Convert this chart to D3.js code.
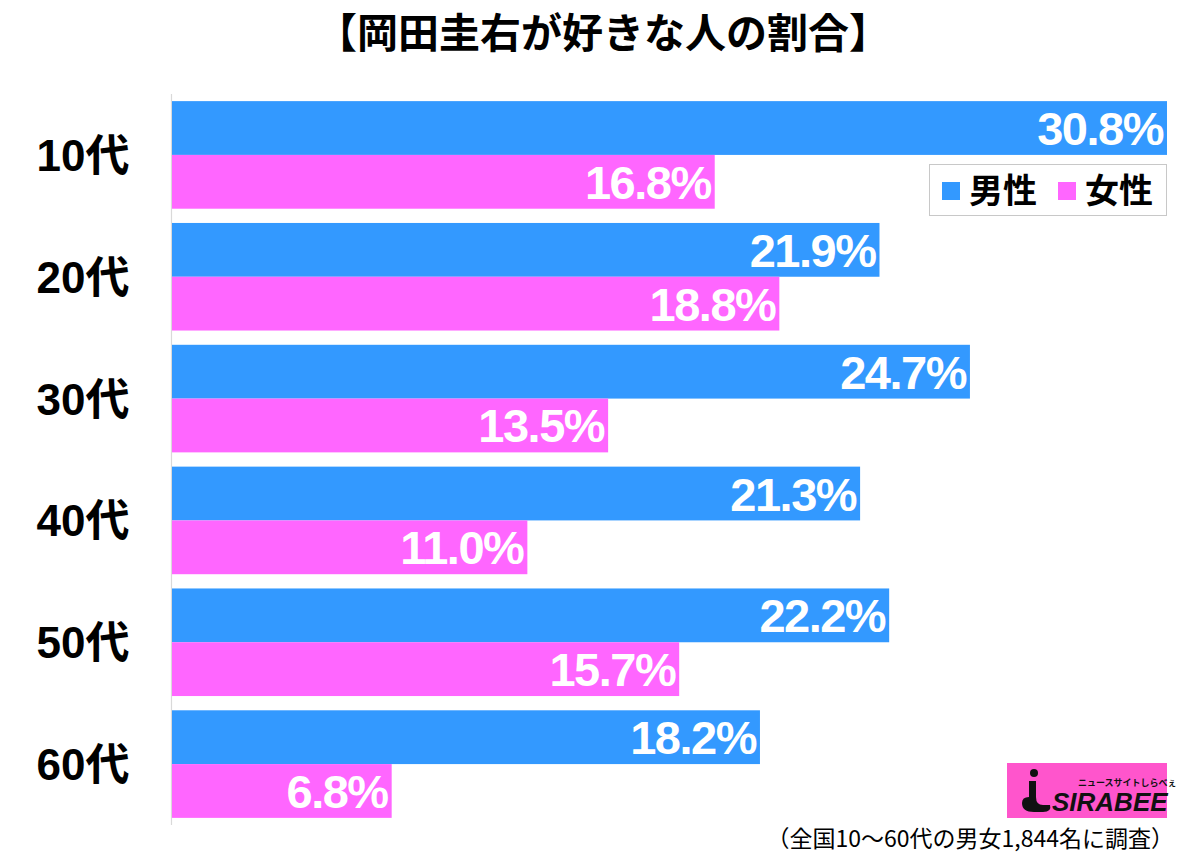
<!DOCTYPE html>
<html>
<head>
<meta charset="utf-8">
<script src="https://cdn.jsdelivr.net/npm/d3@7"></script>
<style>
  body { margin: 0; background: #fff; }
  text { font-family: "Liberation Sans", "Noto Sans CJK JP", sans-serif; }
</style>
</head>
<body>
<div id="chart"></div>
<script>
// data
const ages = ["10代", "20代", "30代", "40代", "50代", "60代"];
const genders = ["男性", "女性"];
const male = [30.8, 21.9, 24.7, 21.3, 22.2, 18.2];
const female = [16.8, 18.8, 13.5, 11.0, 15.7, 6.8];
const title = "【岡田圭右が好きな人の割合】";
const note = "（全国10～60代の男女1,844名に調査）";

const width = 1200, height = 856;
const colors = { "男性": "#3399ff", "女性": "#ff66ff" };

const svg = d3.select("#chart").append("svg")
  .attr("width", width)
  .attr("height", height);

const rows = ages.map((a, i) => ({ age: a, 男性: male[i], 女性: female[i] }));

const x = d3.scaleLinear().domain([0, 30.8]).range([172, 1167]);
const y = d3.scaleBand().domain(ages).range([94, 825])
  .paddingInner(0.117).paddingOuter(0.0585);
const ySub = d3.scaleBand().domain(genders).range([0, y.bandwidth()]);

// title
svg.append("text")
  .attr("x", 603).attr("y", 48)
  .attr("text-anchor", "middle")
  .style("font-family", "'Noto Sans CJK JP'")
  .style("font-weight", "bold")
  .style("font-size", "41px")
  .text(title);

// axis line
svg.append("line")
  .attr("x1", 171.5).attr("x2", 171.5)
  .attr("y1", 94).attr("y2", 825)
  .attr("stroke", "#d9d9d9").attr("stroke-width", 1.2);

// bars
const groups = svg.selectAll(".grp").data(rows).enter().append("g")
  .attr("class", "grp")
  .attr("transform", d => `translate(0, ${y(d.age)})`);

groups.selectAll("rect")
  .data(d => genders.map(g => ({ g, v: d[g] })))
  .enter().append("rect")
  .attr("x", x(0))
  .attr("y", d => ySub(d.g))
  .attr("width", d => x(d.v) - x(0))
  .attr("height", ySub.bandwidth())
  .attr("fill", d => colors[d.g]);

groups.selectAll(".val")
  .data(d => genders.map(g => ({ g, v: d[g] })))
  .enter().append("text")
  .attr("class", "val")
  .attr("x", d => x(d.v) - 4)
  .attr("y", d => ySub(d.g) + ySub.bandwidth() / 2 + 17)
  .attr("text-anchor", "end")
  .attr("fill", "#fff")
  .style("font-weight", "bold")
  .style("font-size", "47px")
  .style("letter-spacing", "-1.5px")
  .text(d => d.v.toFixed(1) + "%");

// category labels
svg.selectAll(".cat").data(ages).enter().append("text")
  .attr("class", "cat")
  .attr("x", 83).attr("y", d => y(d) + y.bandwidth() / 2 + 16)
  .attr("text-anchor", "middle")
  .style("font-weight", "bold")
  .style("font-size", "44px")
  .text(d => d);

// legend
const lg = svg.append("g");
lg.append("rect")
  .attr("x", 929.5).attr("y", 164.5).attr("width", 237).attr("height", 51)
  .attr("fill", "#fff").attr("stroke", "#c8c8c8");
genders.forEach((g, i) => {
  const lx = 942 + i * 116;
  lg.append("rect").attr("x", lx).attr("y", 182).attr("width", 18).attr("height", 18)
    .attr("fill", colors[g]);
  lg.append("text").attr("x", lx + 27).attr("y", 203)
    .style("font-family", "'Noto Sans CJK JP'")
    .style("font-weight", "bold").style("font-size", "34px")
    .text(g);
});

// logo
const logo = svg.append("g");
logo.append("rect").attr("x", 1007).attr("y", 763).attr("width", 160).attr("height", 55)
  .attr("fill", "#ff55cc");
logo.append("circle").attr("cx", 1034).attr("cy", 773).attr("r", 4).attr("fill", "#111");
logo.append("path")
  .attr("d", "M1029,781 L1036,781 L1036,797 Q1036,805 1043,805 L1050,805 Q1052,812 1043,812 L1034,812 Q1022,812 1022,803 Q1022,797 1029,797 Z")
  .attr("fill", "#111");
logo.append("text").attr("x", 1052).attr("y", 811)
  .style("font-weight", "bold").style("font-style", "italic")
  .style("font-size", "26px").attr("fill", "#111")
  .text("SIRABEE");
logo.append("text").attr("x", 1078).attr("y", 786)
  .style("font-family", "'Noto Sans CJK JP'")
  .style("font-weight", "bold").style("font-size", "9px").attr("fill", "#111")
  .text("ニュースサイトしらべぇ");

// footnote
svg.append("text")
  .attr("x", 1174).attr("y", 847)
  .attr("text-anchor", "end")
  .style("font-family", "'Noto Sans CJK JP'")
  .style("font-size", "23px")
  .text(note);
</script>
</body>
</html>
